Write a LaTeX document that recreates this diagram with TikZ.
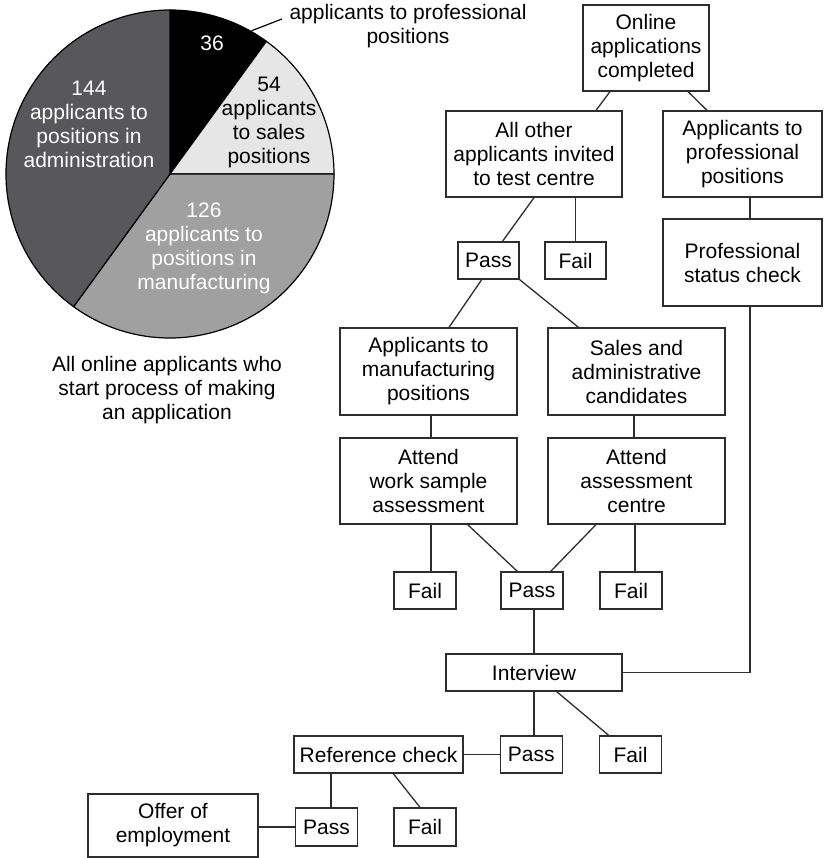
\documentclass[tikz,border=0pt]{standalone}
\usepackage{fontspec}
\setmainfont{Liberation Sans}
\definecolor{pielight}{RGB}{230,230,230}
\definecolor{piemid}{RGB}{160,160,160}
\definecolor{piedark}{RGB}{88,88,90}
\definecolor{linecol}{RGB}{45,45,45}
\begin{document}
\begin{tikzpicture}[x=1pt,y=-1pt,
  every node/.style={font=\fontsize{21}{24}\selectfont, inner sep=0pt, align=center},
  box/.style={draw=linecol, line width=1.3pt, fill=white},
  conn/.style={draw=linecol, line width=1.3pt},
  slice/.style={draw=black, line width=1.2pt, line join=round}]
\useasboundingbox (0,0) rectangle (823,858);

% ---------- pie chart ----------
\coordinate (pc) at (170,174);
\path[slice, fill=black] (pc) -- ++(-90:164) arc[start angle=-90, end angle=-54, radius=164] -- cycle;
\path[slice, fill=pielight] (pc) -- ++(0:164) arc[start angle=0, end angle=-54, radius=164] -- cycle;
\path[slice, fill=piemid] (pc) -- ++(126:164) arc[start angle=126, end angle=0, radius=164] -- cycle;
\path[slice, fill=piedark] (pc) -- ++(126:164) arc[start angle=126, end angle=270, radius=164] -- cycle;

\node[text=white] (n36) at (212,43) {36};
\node (n54) at (269,122) {54\\applicants\\to sales\\positions};
\node[text=white] (n144) at (89,124) {144\\applicants to\\positions in\\administration};
\node[text=white] (n126) at (204,248) {126\\applicants to\\positions in\\manufacturing};
\node (proflabel) at (408,26) {applicants to professional\\positions};
\coordinate (profpt) at (251.7,30.7);
\coordinate (profend) at (282,19);
\draw[line width=1.2pt] (profpt) -- (profend);
\node (caption) at (167,390) {All online applicants who\\start process of making\\an application};

% ---------- flow chart ----------
\node[box, minimum width=126pt, minimum height=86pt] (online) at (646,48) {Online\\applications\\completed};
\node[box, minimum width=176pt, minimum height=86pt] (allother) at (534,154) {All other\\applicants invited\\to test centre};
\node[box, minimum width=159pt, minimum height=86pt] (profapp) at (742.5,154) {Applicants to\\professional\\positions};
\node[box, minimum width=61pt, minimum height=37pt] (pass1) at (488.5,260.5) {Pass};
\node[box, minimum width=61pt, minimum height=37pt] (fail1) at (575.5,260.5) {Fail};
\node[box, minimum width=159pt, minimum height=87pt] (psc) at (742.5,262.5) {Professional\\status check};
\node[box, minimum width=177pt, minimum height=87pt] (manuf) at (428.5,371.5) {Applicants to\\manufacturing\\positions};
\node[box, minimum width=177pt, minimum height=87pt] (sales) at (636.5,371.5) {Sales and\\administrative\\candidates};
\node[box, minimum width=177pt, minimum height=86pt] (worksample) at (428.5,481) {Attend\\work sample\\assessment};
\node[box, minimum width=177pt, minimum height=86pt] (assess) at (636.5,481) {Attend\\assessment\\centre};
\node[box, minimum width=62pt, minimum height=37pt] (fail2) at (425,590.5) {Fail};
\node[box, minimum width=62pt, minimum height=37pt] (pass2) at (532,590.5) {Pass};
\node[box, minimum width=62pt, minimum height=37pt] (fail3) at (631,590.5) {Fail};
\node[box, minimum width=176pt, minimum height=37pt] (interview) at (534,672.5) {Interview};
\node[box, minimum width=62pt, minimum height=37pt] (pass3) at (531.25,754.5) {Pass};
\node[box, minimum width=62pt, minimum height=37pt] (fail4) at (630.5,754.5) {Fail};
\node[box, minimum width=169pt, minimum height=37pt] (refcheck) at (378.5,754.5) {Reference check};
\node[box, minimum width=62pt, minimum height=38pt] (pass4) at (326.5,827) {Pass};
\node[box, minimum width=62pt, minimum height=38pt] (fail5) at (425,827) {Fail};
\node[box, minimum width=170pt, minimum height=63pt] (offer) at (173,825.5) {Offer of\\employment};

% connectors
\draw[conn] ([xshift=-36pt]online.south) -- ([xshift=62pt]allother.north);
\draw[conn] ([xshift=42pt]online.south) -- ([xshift=-35.5pt]profapp.north);
\draw[conn] (allother.south) -- ([xshift=14pt]pass1.north);
\draw[conn] (fail1.north |- allother.south) -- (fail1.north);
\draw[conn] ([xshift=7.5pt]profapp.south) -- ([xshift=7.5pt]psc.north);
\draw[conn] ([xshift=-6.8pt]pass1.south) -- ([xshift=20.5pt]manuf.north);
\draw[conn] (pass1.south east) -- ([xshift=-58pt]sales.north);
\draw[conn] ([xshift=2.5pt]manuf.south) -- ([xshift=2.5pt]worksample.north);
\draw[conn] ([xshift=-2.5pt]sales.south) -- ([xshift=-2.5pt]assess.north);
\draw[conn] ([xshift=2.5pt]worksample.south) -- ([xshift=6pt]fail2.north);
\draw[conn] ([xshift=39.2pt]worksample.south) -- ([xshift=-14.7pt]pass2.north);
\draw[conn] ([xshift=-40.5pt]assess.south) -- ([xshift=18.7pt]pass2.north);
\draw[conn] ([xshift=-1.5pt]assess.south) -- ([xshift=4pt]fail3.north);
\draw[conn] ([xshift=2pt]pass2.south) -- (interview.north);
\draw[conn] ([xshift=7.5pt]psc.south) |- (interview.east);
\draw[conn] (interview.south) -- ([xshift=2.75pt]pass3.north);
\draw[conn] ([xshift=22.7pt]interview.south) -- ([xshift=-21.8pt]fail4.north);
\draw[conn] (refcheck.east) -- (pass3.west);
\draw[conn] ([xshift=-47.5pt]refcheck.south) -- ([xshift=4.5pt]pass4.north);
\draw[conn] ([xshift=14.8pt]refcheck.south) -- ([xshift=-5pt]fail5.north);
\draw[conn] (pass4.west) -- (pass4.west -| offer.east);
\end{tikzpicture}
\end{document}
